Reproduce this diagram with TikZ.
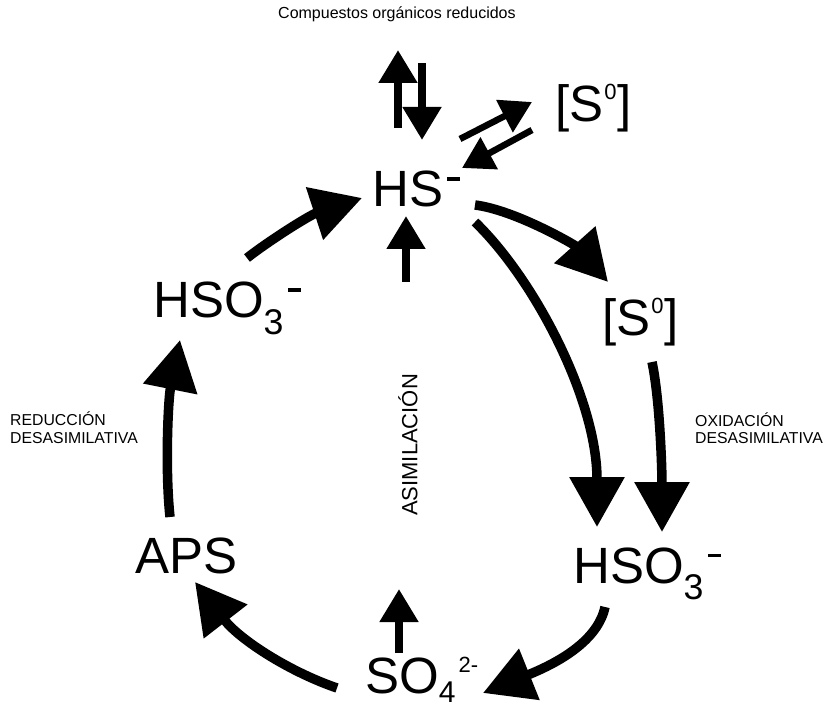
\documentclass[tikz,border=0pt]{standalone}
\usepackage{fontspec}
\setmainfont{Liberation Sans}
\usetikzlibrary{arrows.meta}
\newcommand{\chsup}[2]{\raisebox{#1}{\fontsize{22}{22}\selectfont #2}}
\newcommand{\chminus}{\kern4pt\rule[26pt]{13pt}{3.5pt}}
\begin{document}
\begin{tikzpicture}[x=1pt,y=-1pt,
  chem/.style={font=\fontsize{51}{51}\selectfont, inner sep=0pt, anchor=base west},
  lab/.style={font=\fontsize{15.8}{17}\selectfont, inner sep=0pt, anchor=base west},
  big/.style={line width=9.5pt, -{Triangle[length=50pt,width=53pt]}},
  vsmall/.style={line width=8pt, -{Triangle[length=33pt,width=37pt]}},
  dsmall/.style={line width=6.5pt, -{Triangle[length=31pt,width=35pt]}}]
\useasboundingbox (0,0) rectangle (827,708);
% texts
\node[lab, font=\fontsize{16}{17}\selectfont] (title) at (278,19) {Compuestos orgánicos reducidos};
\node[chem] (hs) at (372,207) {HS\chminus};
\node[chem] (s0a) at (555,122) {[S\kern1pt\chsup{22pt}{0}\kern1pt]};
\node[chem] (s0b) at (602,336) {[S\kern1pt\chsup{22pt}{0}\kern1pt]};
\node[chem] (hso3r) at (573,583) {HSO\textsubscript{3}\chminus};
\node[chem] (so4) at (365,693) {SO\raisebox{-9pt}{\fontsize{30}{30}\selectfont 4}\kern3pt\chsup{21pt}{2-}};
\node[chem] (aps) at (135,573) {APS};
\node[chem] (hso3l) at (153,318) {HSO\textsubscript{3}\chminus};
\node[lab] (red1) at (10,425) {REDUCCIÓN};
\node[lab] (red2) at (10,443) {DESASIMILATIVA};
\node[lab] (ox1) at (695,426) {OXIDACIÓN};
\node[lab] (ox2) at (695,443) {DESASIMILATIVA};
\node[font=\fontsize{22}{22}\selectfont, inner sep=0pt, rotate=90] (asim) at (408,445) {ASIMILACIÓN};
% connector end points
\coordinate (t1a) at (398,128); \coordinate (t1b) at (398,50);
\coordinate (t2a) at (422,63);  \coordinate (t2b) at (422,140);
\coordinate (d1a) at (460,139); \coordinate (d1b) at (532,102);
\coordinate (d2a) at (532,130); \coordinate (d2b) at (462,168);
\coordinate (u1a) at (406,282); \coordinate (u1b) at (406,216);
\coordinate (u2a) at (399,653); \coordinate (u2b) at (399,589);
\coordinate (c1a) at (475,205); \coordinate (c1b) at (608,282);
\coordinate (c2a) at (475,222); \coordinate (c2b) at (597,527);
\coordinate (c3a) at (652,362); \coordinate (c3b) at (662,532);
\coordinate (c4a) at (605,607); \coordinate (c4b) at (483,693);
\coordinate (c5a) at (337,688); \coordinate (c5b) at (195,582);
\coordinate (c6a) at (170,517); \coordinate (c6b) at (180,340);
\coordinate (c7a) at (247,258); \coordinate (c7b) at (362,198);
% arrows
\draw[vsmall] (t1a) -- (t1b);
\draw[vsmall] (t2a) -- (t2b);
\draw[dsmall] (d1a) -- (d1b);
\draw[dsmall] (d2a) -- (d2b);
\draw[vsmall] (u1a) -- (u1b);
\draw[vsmall] (u2a) -- (u2b);
\draw[big] (c1a) .. controls (515,210) and (575,245) .. (c1b);
\draw[big] (c2a) .. controls (535,280) and (597,400) .. (c2b);
\draw[big] (c3a) .. controls (660,400) and (662,470) .. (c3b);
\draw[big] (c4a) .. controls (598,640) and (560,662) .. (c4b);
\draw[big] (c5a) .. controls (290,672) and (240,640) .. (c5b);
\draw[big] (c6a) .. controls (165,470) and (168,400) .. (c6b);
\draw[big] (c7a) .. controls (270,240) and (310,215) .. (c7b);
\end{tikzpicture}
\end{document}
